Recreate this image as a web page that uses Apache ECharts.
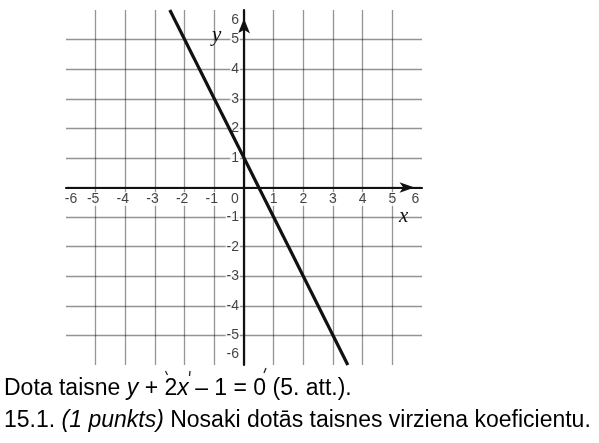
<!DOCTYPE html>
<html><head><meta charset="utf-8">
<script src="https://cdn.jsdelivr.net/npm/echarts@6/dist/echarts.min.js"></script>
<style>html,body{margin:0;padding:0;background:#fff}#c{width:599px;height:443px}</style>
</head><body><div id="c"></div>
<script>
// ---- data ----
const xTicks = [-6, -5, -4, -3, -2, -1, 0, 1, 2, 3, 4, 5, 6];
const yTicks = [-6, -5, -4, -3, -2, -1, 1, 2, 3, 4, 5, 6];
const lineX = [-2.5, 3.5];
const lineY = [6, -6];
const xName = 'x';
const yName = 'y';
const caption1 = ['Dota taisne ', 'y', ' + 2', 'x', ' – 1 = 0 (5. att.).'];
const caption2 = ['15.1. ', '(1 punkts)', ' Nosaki dotās taisnes virziena koeficientu.'];

const SANS = '"Liberation Sans", Arial, sans-serif';
const SERIF = '"Liberation Serif", "Times New Roman", serif';

const chart = echarts.init(document.getElementById('c'), null, {renderer: 'canvas'});

function xLabelOffset(v) {
  if (v === xTicks[0]) return [5, 0];
  if (v === xTicks[xTicks.length - 1]) return [-6.5, 0];
  if (v === 0) return [-9, 0];
  if (v < 0) return [-2.5, 0];
  return [0, 0];
}
function yLabelOffset(v) {
  if (v === yTicks[yTicks.length - 1]) return [0, 10.5];
  if (v === yTicks[0]) return [0, -10.5];
  return [0, 0];
}

const labelBase = {
  show: true,
  color: '#111',
  fontFamily: SANS,
  fontSize: 14,
  backgroundColor: '#fff',
  padding: [0, 1],
  formatter: p => String(p.data.tick)
};

const xLabelData = xTicks.map(v => ({
  value: [v, 0], tick: v,
  label: Object.assign({}, labelBase, {position: 'bottom', distance: 4, offset: xLabelOffset(v)})
}));
const yLabelData = yTicks.map(v => ({
  value: [0, v], tick: v,
  label: Object.assign({}, labelBase, {position: 'left', distance: 3.5, offset: yLabelOffset(v)})
}));

const axisCommon = {
  type: 'value',
  min: -6, max: 6, interval: 1,
  axisTick: {show: false},
  axisLabel: {show: false},
  splitLine: {
    show: true, showMinLine: false, showMaxLine: false,
    lineStyle: {color: 'rgba(0,0,0,0.42)', width: 1.3}
  }
};

const option = {
  animation: false,
  backgroundColor: '#fff',
  grid: {left: 66, right: 177, top: 10, bottom: 78, containLabel: false},
  xAxis: Object.assign({}, axisCommon, {
    axisLine: {
      show: true, onZero: true,
      symbol: ['none', 'arrow'], symbolSize: [8, 15], symbolOffset: [0, -7.5],
      lineStyle: {color: '#111', width: 2.2}
    }
  }),
  yAxis: Object.assign({}, axisCommon, {
    axisLine: {
      show: true, onZero: true,
      symbol: ['none', 'arrow'], symbolSize: [9, 15], symbolOffset: [0, -8.5],
      lineStyle: {color: '#111', width: 2.2}
    }
  }),
  series: [
    {
      type: 'scatter', silent: true, z: 2,
      symbolSize: 1, itemStyle: {color: 'rgba(0,0,0,0)'},
      data: xLabelData.concat(yLabelData)
    },
    {
      type: 'line', silent: true, z: 3,
      symbol: 'none',
      lineStyle: {color: '#111', width: 3.2},
      data: lineX.map((x, i) => [x, lineY[i]])
    }
  ],
  graphic: [
    {type: 'text', left: 212, top: 25, silent: true,
     style: {text: yName, font: 'italic 21px ' + SERIF, fill: '#111'}},
    {type: 'text', left: 399, top: 206, silent: true,
     style: {text: xName, font: 'italic 21px ' + SERIF, fill: '#111'}},
    {type: 'text', left: 4, top: 377, silent: true,
     style: {
       text: '{n|' + caption1[0] + '}{i|' + caption1[1] + '}{n|' + caption1[2] + '}{i|' + caption1[3] + '}{n|' + caption1[4] + '}',
       rich: {
         n: {fontFamily: SANS, fontSize: 23, color: '#000'},
         i: {fontFamily: SANS, fontSize: 23, fontStyle: 'italic', color: '#000'}
       }
     }},
    {type: 'text', left: 4, top: 409, silent: true,
     style: {
       text: '{n|' + caption2[0] + '}{i|' + caption2[1] + '}{n|' + caption2[2] + '}',
       rich: {
         n: {fontFamily: SANS, fontSize: 23, color: '#000'},
         i: {fontFamily: SANS, fontSize: 23, fontStyle: 'italic', color: '#000'}
       }
     }},
    {type: 'line', silent: true, shape: {x1: 165.5, y1: 371, x2: 167.5, y2: 375}, style: {stroke: '#222', lineWidth: 1.3}},
    {type: 'line', silent: true, shape: {x1: 190, y1: 371, x2: 189.5, y2: 376}, style: {stroke: '#222', lineWidth: 1.3}},
    {type: 'line', silent: true, shape: {x1: 266, y1: 368, x2: 264, y2: 373}, style: {stroke: '#222', lineWidth: 1.3}}
  ]
};
chart.setOption(option);
</script>
</body></html>
